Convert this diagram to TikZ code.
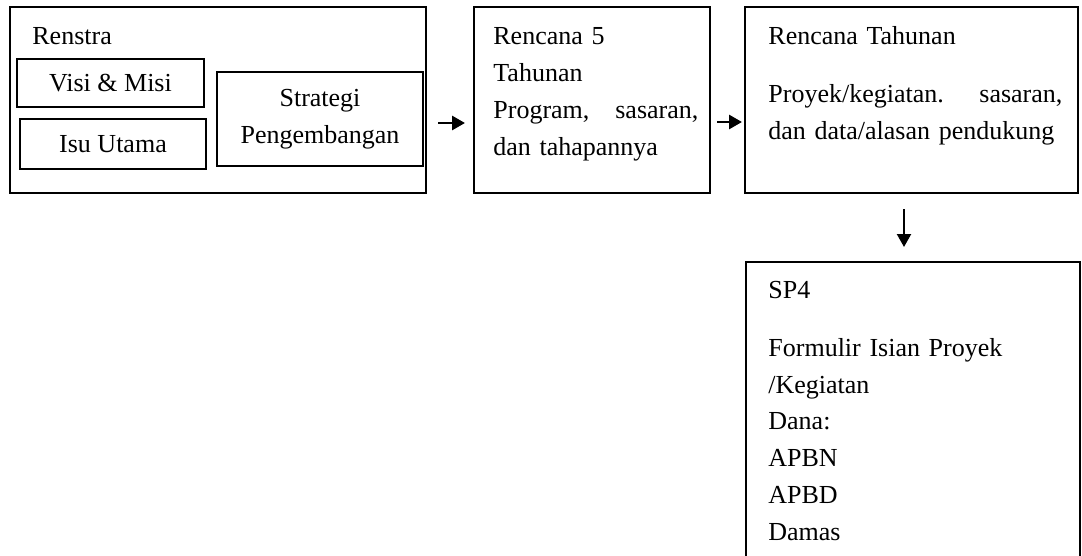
\documentclass[tikz,border=0pt]{standalone}
\usepackage{fontspec}
\setmainfont{Liberation Serif}
\usetikzlibrary{arrows.meta}

\tikzset{
  kotak/.style={draw, line width=1pt, inner sep=0pt},
  kotakdalam/.style={kotak, line width=1.3pt, align=center},
  teks/.style={inner sep=0pt, anchor=base west, align=left},
  panah/.style={line width=1.4pt, -{Triangle[length=6.5pt,width=7pt]}},
}

\begin{document}
\begin{tikzpicture}[x=0.5pt,y=-0.5pt, font=\fontsize{13pt}{18.5pt}\selectfont]
\useasboundingbox (0,0) rectangle (1082,556);
% Renstra dan isinya
\node[kotak, minimum width=208pt, minimum height=93pt] (renstra) at (218,100) {};
\node[teks] (judulrenstra) at (32,45) {Renstra};
\node[kotakdalam, minimum width=93.5pt, minimum height=24pt] (visi) at (110.5,83) {Visi \& Misi};
\node[kotakdalam, minimum width=93pt, minimum height=25pt] (isu) at (113,144) {Isu Utama};
\node[kotakdalam, minimum width=103pt, minimum height=47pt] (strategi) at (320,119) {Strategi\\Pengembangan};
% Rencana 5 Tahunan
\node[kotak, minimum width=118pt, minimum height=93pt] (renc5) at (592,100) {};
\node[teks, text width=102.5pt] (teksrenc5) at (493,45)
  {Rencana 5\\ Tahunan\\ \makebox[102.5pt][l]{Program,\hfill sasaran,}\\ dan tahapannya};
% Rencana Tahunan
\node[kotak, minimum width=166.5pt, minimum height=93pt] (rtahun) at (911.5,100) {};
\node[teks, text width=147pt] (teksrtahun) at (768,45)
  {Rencana Tahunan\\[10.5pt] \makebox[147pt][l]{Proyek/kegiatan.\hfill sasaran,}\\ dan data/alasan pendukung};
% SP4 (bawahnya terpotong)
\node[kotak, minimum width=167pt, minimum height=152pt] (sp4) at (913,414) {};
\node[teks, text width=150pt] (tekssp4) at (768,298)
  {SP4\\[10.5pt] Formulir Isian Proyek\\ /Kegiatan\\ Dana:\\ APBN\\ APBD\\ Damas};
% panah
\draw[panah, shorten <=5.5pt, shorten >=4pt] ([yshift=-11.5pt]renstra.east) -- ([yshift=-11.5pt]renc5.west);
\draw[panah, shorten <=3pt, shorten >=1pt] ([yshift=-11pt]renc5.east) -- ([yshift=-11pt]rtahun.west);
\draw[panah, line width=1.1pt, shorten <=7.5pt, shorten >=7pt] ([xshift=-3.75pt]rtahun.south) -- ([xshift=-3.75pt]rtahun.south |- sp4.north);
\end{tikzpicture}
\end{document}
